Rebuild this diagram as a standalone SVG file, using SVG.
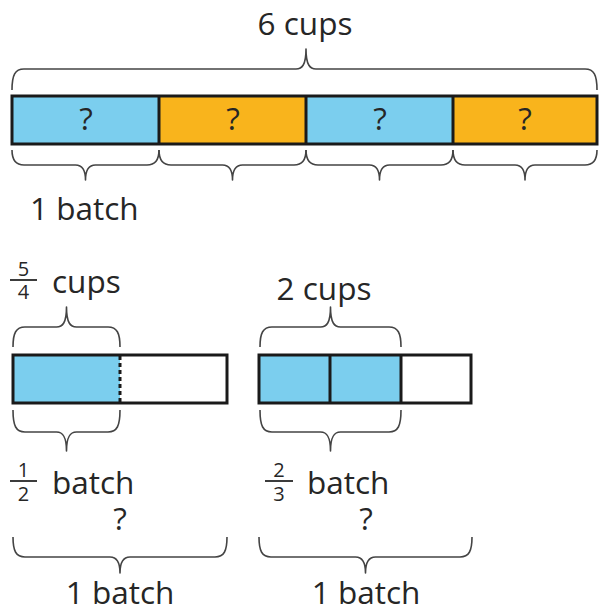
<svg xmlns="http://www.w3.org/2000/svg" width="599" height="612" viewBox="0 0 599 612">
<style>
.t{font-family:"Open Sans","Liberation Sans",sans-serif;fill:#262626;font-size:31.5px}
.f{font-family:"Open Sans","Liberation Sans",sans-serif;fill:#262626;font-size:20px;text-anchor:middle}
.m{text-anchor:middle}
.brace{fill:none;stroke:#444;stroke-width:1.6;stroke-linejoin:round}
.box{fill:none;stroke:#1a1a1a;stroke-width:3}
.blue{fill:#7BCEEE}
.orange{fill:#F9B41C}
.fl{stroke:#262626;stroke-width:1.8}
</style>
<rect width="599" height="612" fill="#fff"/>
<g id="top-bar">
<rect class="blue" x="12" y="96" width="147" height="48"/>
<rect class="orange" x="159" y="96" width="147" height="48"/>
<rect class="blue" x="306" y="96" width="147" height="48"/>
<rect class="orange" x="453" y="96" width="144" height="48"/>
<rect class="box" x="12" y="96" width="585" height="48"/>
<line class="box" x1="159" y1="96" x2="159" y2="144"/>
<line class="box" x1="306" y1="96" x2="306" y2="144"/>
<line class="box" x1="453" y1="96" x2="453" y2="144"/>
<text class="t m" x="86" y="130">?</text>
<text class="t m" x="233" y="130">?</text>
<text class="t m" x="380" y="130">?</text>
<text class="t m" x="525" y="130">?</text>
</g>
<g id="top-labels">
<text class="t m" x="305" y="35">6 cups</text>
<text class="t" x="30" y="220">1 batch</text>
</g>
<g id="left-bar">
<rect class="blue" x="13" y="355" width="107" height="48"/>
<rect class="box" x="13" y="355" width="214" height="48"/>
<line x1="120" y1="356" x2="120" y2="402" stroke="#1a1a1a" stroke-width="3" stroke-dasharray="4 3"/>
<line class="fl" x1="10" y1="280" x2="37" y2="280"/>
<text class="f" x="23.5" y="276">5</text>
<text class="f" x="23.5" y="299">4</text>
<text class="t" x="52" y="293">cups</text>
<line class="fl" x1="10" y1="481" x2="37" y2="481"/>
<text class="f" x="23.5" y="477">1</text>
<text class="f" x="23.5" y="501">2</text>
<text class="t" x="52" y="494">batch</text>
<text class="t m" x="120" y="530">?</text>
<text class="t m" x="120" y="604">1 batch</text>
</g>
<g id="right-bar">
<rect class="blue" x="259" y="355" width="142" height="48"/>
<rect class="box" x="259" y="355" width="212" height="48"/>
<line class="box" x1="330" y1="355" x2="330" y2="403"/>
<line class="box" x1="401" y1="355" x2="401" y2="403"/>
<text class="t m" x="324" y="300">2 cups</text>
<line class="fl" x1="265" y1="481" x2="293" y2="481"/>
<text class="f" x="279" y="477">2</text>
<text class="f" x="279" y="501">3</text>
<text class="t" x="307" y="494">batch</text>
<text class="t m" x="366" y="530">?</text>
<text class="t m" x="366" y="604">1 batch</text>
</g>
<g id="braces">
<path class="brace" d="M12,90 C12,75 15,69 24,69 L296,69 C302,69 306,65 306,49 C306,65 310,69 316,69 L585,69 C594,69 597,75 597,90"/>
<path class="brace" d="M12,150 C12,159 15,165 24,165 L75.5,165 C81.5,165 85.5,169 85.5,180 C85.5,169 89.5,165 95.5,165 L147,165 C156,165 159,159 159,150"/>
<path class="brace" d="M159,150 C159,159 162,165 171,165 L222.5,165 C228.5,165 232.5,169 232.5,180 C232.5,169 236.5,165 242.5,165 L294,165 C303,165 306,159 306,150"/>
<path class="brace" d="M306,150 C306,159 309,165 318,165 L369.5,165 C375.5,165 379.5,169 379.5,180 C379.5,169 383.5,165 389.5,165 L441,165 C450,165 453,159 453,150"/>
<path class="brace" d="M453,150 C453,159 456,165 465,165 L515,165 C521,165 525,169 525,180 C525,169 529,165 535,165 L585,165 C594,165 597,159 597,150"/>
<path class="brace" d="M13,347 C13,333 16,327 25,327 L56.5,327 C62.5,327 66.5,323 66.5,307 C66.5,323 70.5,327 76.5,327 L108,327 C117,327 120,333 120,347"/>
<path class="brace" d="M260,347 C260,333 263,327 272,327 L320.5,327 C326.5,327 330.5,323 330.5,307 C330.5,323 334.5,327 340.5,327 L389,327 C398,327 401,333 401,347"/>
<path class="brace" d="M13,410 C13,426 16,432 25,432 L56.5,432 C62.5,432 66.5,436 66.5,451 C66.5,436 70.5,432 76.5,432 L108,432 C117,432 120,426 120,410"/>
<path class="brace" d="M260,410 C260,426 263,432 272,432 L320.5,432 C326.5,432 330.5,436 330.5,451 C330.5,436 334.5,432 340.5,432 L389,432 C398,432 401,426 401,410"/>
<path class="brace" d="M13,537 C13,551 16,557 25,557 L110,557 C116,557 120,561 120,573 C120,561 124,557 130,557 L215,557 C224,557 227,551 227,537"/>
<path class="brace" d="M259,537 C259,551 262,557 271,557 L355.5,557 C361.5,557 365.5,561 365.5,573 C365.5,561 369.5,557 375.5,557 L460,557 C469,557 472,551 472,537"/>
</g>
</svg>
